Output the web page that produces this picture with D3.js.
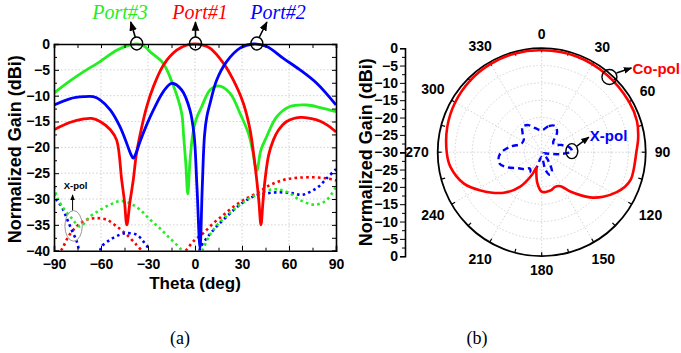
<!DOCTYPE html>
<html>
<head>
<meta charset="utf-8">
<script src="https://cdn.jsdelivr.net/npm/d3@7"></script>
<style>
  body { margin: 0; background: #fff; }
  svg { display: block; }
  .axis text { font-family: Arial, "Liberation Sans", sans-serif; font-weight: bold; fill: #000; }
  .axis path, .axis line { stroke: #000; }
</style>
</head>
<body>
<div id="chart"></div>
<script>
// ---- (a) cartesian pattern data: [theta deg, gain dBi] ----
const port1Co = [[-90,-16.6],[-80,-15.2],[-71,-14.5],[-66,-14.4],[-60.6,-15],[-54,-16.6],[-50,-18.6],[-46.8,-26.3],[-45,-30.5],[-43.5,-35],[-41.5,-30.5],[-39.4,-26.3],[-37.5,-21.5],[-35.1,-17.6],[-30.8,-12.1],[-26.6,-8.3],[-20.2,-4.1],[-11.7,-1.2],[-5,-0.2],[0,0],[5,-0.2],[9.6,-0.8],[18.1,-3.7],[24.5,-7],[30.9,-11.5],[35.1,-16.5],[37.5,-21.5],[39.4,-26.3],[40.8,-30.5],[42.1,-35],[43.4,-30.5],[44.7,-26.3],[47,-21.5],[50,-18.6],[53,-16.8],[58.5,-15],[67,-14.2],[77.7,-14.7],[84,-15.6],[90,-17]];
const port2Co = [[-90,-11.8],[-80,-10.6],[-71,-10.2],[-65,-10.2],[-60.6,-10.8],[-54,-12.8],[-47.9,-16],[-43.5,-19.3],[-41,-21.3],[-39.4,-22.1],[-37.5,-21],[-35,-18.8],[-30.8,-15.6],[-26.6,-12.8],[-20.2,-9.2],[-14.9,-7.6],[-8.5,-8.9],[-3.2,-12.8],[-0.6,-17.6],[1.3,-28],[3.2,-39.5],[4.6,-28],[6.1,-17.6],[7.6,-14],[9.6,-11.5],[13.8,-7],[20.2,-3.4],[28.7,-0.8],[37.2,0],[45.8,-0.5],[56.4,-2.8],[67,-5],[77.7,-7.6],[90,-11.8]];
const port3Co = [[-90,-9.5],[-80,-7.2],[-71.3,-5.4],[-60.6,-3.4],[-50,-1.2],[-43,-0.3],[-37.2,0],[-32,-0.5],[-28.7,-1.5],[-20.4,-3.7],[-14,-7.9],[-8.5,-13.4],[-7.3,-17.6],[-5.9,-23],[-4.6,-29],[-3.3,-23],[-1.5,-17.6],[0.7,-14.6],[4.3,-12.1],[9.6,-8.9],[14.9,-8.1],[22.3,-9.5],[28.7,-13.4],[34,-17.2],[36.7,-20.5],[39.4,-24.5],[42.1,-20.5],[45.8,-17.9],[52.1,-14.1],[60.6,-12.1],[71.3,-11.8],[80,-12.3],[90,-13.1]];

// cross-pol (dotted); null splits a segment that drops below -40
const port1X = [[-85.5,-40],[-84,-39.2],[-80.9,-37.3],[-75.5,-35.3],[-69.1,-34],[-62.7,-33.7],[-56.4,-34],[-50,-35.3],[-43.6,-36.9],[-37.2,-38.9],[-34,-40],null,[-6,-40],[-5.3,-39.8],[-1.1,-38.2],[5.3,-36.6],[11.7,-34.7],[18.1,-33.1],[24.5,-31.5],[30.9,-30.2],[39.4,-28.9],[47.9,-27.3],[56.4,-26.3],[65,-25.9],[75.5,-25.8],[84,-26],[90,-26.4]];
const port2X = [[-90,-28.9],[-88.3,-30.2],[-85.1,-31.5],[-81.9,-33.7],[-78.7,-36],[-75.5,-38.2],[-74,-40],null,[-60.5,-40],[-59.6,-39.2],[-54.3,-37.9],[-47.9,-36.9],[-43.6,-36.6],[-37.2,-36.9],[-33,-38.2],[-29.8,-39.5],[-29.3,-40],null,[3,-40],[3.2,-39.5],[7.4,-37.6],[13.8,-35.3],[20.2,-33.4],[28.7,-31.1],[37.2,-29.5],[45.8,-28.9],[54.3,-28.7],[62.8,-28.9],[68.3,-29.2],[73.6,-28.6],[78.9,-27.6],[84,-26],[90,-24.2]];
const port3X = [[-90,-27.6],[-88.3,-29.5],[-84,-31.8],[-78.7,-33.7],[-73.5,-35.3],[-67,-33.4],[-60.6,-32.1],[-54.3,-31.1],[-47.9,-30.4],[-41.5,-30.8],[-35,-32.1],[-28.7,-34],[-22.3,-35.7],[-16,-37.6],[-9.6,-39.5],[-8.5,-40],null,[4.5,-40],[4.9,-39.8],[9.6,-36.9],[16,-34.4],[22.3,-32.7],[28.7,-31.1],[35.1,-29.8],[41.5,-28.9],[47.9,-28.2],[54.3,-28.2],[60.6,-28.9],[67,-30.2],[76.6,-31.1],[84,-30.2],[90,-27.6]];

const thetaTicks = [-90,-60,-30,0,30,60,90];
const gainTicks = [-40,-35,-30,-25,-20,-15,-10,-5,0];
const portNames = ["Port#3","Port#1","Port#2"];
const portPeaks = [-37.2, 0.3, 39.5];   // theta of main beam, marked by circles

// ---- (b) polar pattern data: [angle deg, gain dBi] ----
const coPol = [[0,-0.6],[20,-0.6],[40,-0.8],[60,-0.9],[72,-1.1],[82,-1.9],[90,-2.7],[100,-3],[107,-3.1],[112.5,-4],[118,-5.5],[126,-8.1],[133,-10.9],[144,-16],[151,-18.8],[159,-19.3],[166,-18.7],[173,-18.5],[180,-18.6],[188,-21],[195,-24],[199,-25.3],[203,-23],[212,-18.3],[223,-14],[238,-9.2],[248,-5.8],[261,-3.3],[270,-2.6],[285,-1.8],[300,-1.2],[315,-0.8],[330,-0.6],[345,-0.5]];
const xPol = [[0,-23.7],[15,-22.2],[27,-21.5],[38,-22.8],[50,-25.7],[60,-25.7],[70,-23.9],[80,-21.9],[88,-21.3],[96,-24.8],[105,-28.6],[120,-29.4],[140,-27.4],[152,-23.7],[160,-23.1],[168,-24.8],[178,-28.6],[190,-28.3],[200,-24.5],[208,-23.4],[216,-24.2],[225,-23.1],[235,-21.9],[247,-19],[256,-17.3],[268,-18],[280,-20.8],[293,-23.7],[305,-23.7],[315,-22.2],[323,-20.8],[334,-21.3],[345,-22.8]];
const angleTicks = d3.range(0, 360, 30);
const radialTicks = [-30,-25,-20,-15,-10,-5,0];

const W = 681, H = 353;
const sans = 'Arial, "Liberation Sans", sans-serif';
const serif = '"Times New Roman", "Liberation Serif", serif';
const RED = "#ff0000", GREEN = "#22ee22", BLUE = "#0000ff";

const svg = d3.select("#chart").append("svg")
    .attr("width", W).attr("height", H);

svg.append("defs").append("marker")
    .attr("id", "arrow")
    .attr("viewBox", "0 0 10 10")
    .attr("refX", 9).attr("refY", 5)
    .attr("markerWidth", 6).attr("markerHeight", 6)
    .attr("orient", "auto")
  .append("path")
    .attr("d", "M0,1 L10,5 L0,9 z")
    .attr("fill", "#000");

// ================= (a) =================
const x = d3.scaleLinear().domain([-90, 90]).range([54, 336]);
const y = d3.scaleLinear().domain([-40, 0]).range([250.7, 44]);

svg.append("clipPath").attr("id", "clipA")
  .append("rect")
    .attr("x", x(-90)).attr("y", y(0) - 2)
    .attr("width", x(90) - x(-90)).attr("height", y(-40) - y(0) + 2);

const gA = svg.append("g");

// grid
gA.append("g").selectAll("line")
    .data(thetaTicks.slice(1, -1))
    .join("line")
    .attr("x1", d => x(d)).attr("x2", d => x(d))
    .attr("y1", y(0)).attr("y2", y(-40))
    .attr("stroke", "#c8c8c8").attr("stroke-width", 0.8)
    .attr("stroke-dasharray", "1.5 2");
gA.append("g").selectAll("line")
    .data(gainTicks.slice(1, -1))
    .join("line")
    .attr("x1", x(-90)).attr("x2", x(90))
    .attr("y1", d => y(d)).attr("y2", d => y(d))
    .attr("stroke", "#c8c8c8").attr("stroke-width", 0.8)
    .attr("stroke-dasharray", "1.5 2");

// curves
const lineA = d3.line()
    .defined(d => d !== null)
    .x(d => x(d[0])).y(d => y(d[1]))
    .curve(d3.curveCatmullRom.alpha(0.5));

const plotA = gA.append("g").attr("clip-path", "url(#clipA)");

const dotted = [[port1X, RED], [port2X, BLUE], [port3X, GREEN]];
plotA.selectAll(".xpol")
    .data(dotted)
    .join("path")
    .attr("class", "xpol")
    .attr("d", d => lineA(d[0]))
    .attr("fill", "none")
    .attr("stroke", d => d[1])
    .attr("stroke-width", 2.6)
    .attr("stroke-dasharray", "2.6 3.2");

const solid = [[port3Co, GREEN], [port1Co, RED], [port2Co, BLUE]];
plotA.selectAll(".copol")
    .data(solid)
    .join("path")
    .attr("class", "copol")
    .attr("d", d => lineA(d[0]))
    .attr("fill", "none")
    .attr("stroke", d => d[1])
    .attr("stroke-width", 2.8)
    .attr("stroke-linejoin", "round");

// axes
const fmt = d3.format("d");
const minorTheta = d3.range(-75, 90, 30);
const minorGain = d3.range(-37.5, 0, 5);

gA.append("g").attr("class", "axis")
    .attr("transform", `translate(0,${y(-40)})`)
    .call(d3.axisBottom(x).tickValues(thetaTicks).tickFormat(fmt).tickSize(-5).tickPadding(8))
    .call(g => g.selectAll("text").attr("font-size", 14).attr("font-family", sans))
    .call(g => g.select(".domain").attr("stroke-width", 1.6));
gA.append("g").attr("class", "axis")
    .attr("transform", `translate(0,${y(-40)})`)
    .call(d3.axisBottom(x).tickValues(minorTheta).tickFormat("").tickSize(-3))
    .call(g => g.select(".domain").remove());
gA.append("g").attr("class", "axis")
    .attr("transform", `translate(0,${y(0)})`)
    .call(d3.axisTop(x).tickValues(thetaTicks.concat(minorTheta)).tickFormat("").tickSize(-4))
    .call(g => g.select(".domain").attr("stroke-width", 1.6));

gA.append("g").attr("class", "axis")
    .attr("transform", `translate(${x(-90)},0)`)
    .call(d3.axisLeft(y).tickValues(gainTicks).tickFormat(fmt).tickSize(-5).tickPadding(4))
    .call(g => g.selectAll("text").attr("font-size", 14).attr("font-family", sans))
    .call(g => g.select(".domain").attr("stroke-width", 1.6));
gA.append("g").attr("class", "axis")
    .attr("transform", `translate(${x(-90)},0)`)
    .call(d3.axisLeft(y).tickValues(minorGain).tickFormat("").tickSize(-3))
    .call(g => g.select(".domain").remove());
gA.append("g").attr("class", "axis")
    .attr("transform", `translate(${x(90)},0)`)
    .call(d3.axisRight(y).tickValues(gainTicks.concat(minorGain)).tickFormat("").tickSize(-4))
    .call(g => g.select(".domain").attr("stroke-width", 1.6));

// axis titles
gA.append("text")
    .attr("x", (x(-90) + x(90)) / 2).attr("y", 289)
    .attr("text-anchor", "middle")
    .attr("font-family", sans).attr("font-weight", "bold").attr("font-size", 17)
    .text("Theta (deg)");
gA.append("text")
    .attr("transform", `translate(21,${(y(0) + y(-40)) / 2 + 2}) rotate(-90)`)
    .attr("text-anchor", "middle")
    .attr("font-family", sans).attr("font-weight", "bold").attr("font-size", 18)
    .text("Normalized Gain (dBi)");

// port labels with circled peaks and arrows
const portColors = [GREEN, RED, BLUE];
const labelX = [120, 200, 278];
const arrowTilt = [-6, 0, 10];
portPeaks.forEach((t, i) => {
    const px = x(t), py = y(0);
    gA.append("ellipse")
        .attr("cx", px).attr("cy", py - 0.5)
        .attr("rx", 6).attr("ry", 6.5)
        .attr("fill", "none").attr("stroke", "#000").attr("stroke-width", 1.4);
    gA.append("line")
        .attr("x1", px + arrowTilt[i] * 0.25).attr("y1", py - 7)
        .attr("x2", px + arrowTilt[i]).attr("y2", py - 22)
        .attr("stroke", "#000").attr("stroke-width", 1.6)
        .attr("marker-end", "url(#arrow)");
    gA.append("text")
        .attr("x", labelX[i]).attr("y", 19)
        .attr("text-anchor", "middle")
        .attr("font-family", serif).attr("font-style", "italic").attr("font-size", 20)
        .attr("fill", portColors[i])
        .text(portNames[i]);
});

// X-pol annotation
const xpx = x(-77.5), xpy = y(-35.2);
gA.append("ellipse")
    .attr("cx", xpx).attr("cy", xpy)
    .attr("rx", 8.7).attr("ry", 15.3)
    .attr("fill", "none").attr("stroke", "#999").attr("stroke-width", 1);
gA.append("line")
    .attr("x1", xpx - 1).attr("y1", xpy - 15.5)
    .attr("x2", xpx - 1).attr("y2", xpy - 31)
    .attr("stroke", "#000").attr("stroke-width", 1)
    .attr("marker-end", "url(#arrow)");
gA.append("text")
    .attr("x", xpx + 2).attr("y", xpy - 37)
    .attr("text-anchor", "middle")
    .attr("font-family", sans).attr("font-weight", "bold").attr("font-size", 9.5)
    .text("X-pol");

svg.append("text")
    .attr("x", 180).attr("y", 344)
    .attr("text-anchor", "middle")
    .attr("font-family", serif).attr("font-size", 18)
    .text("(a)");

// ================= (b) =================
const cx = 541.7, cy = 152.2, R = 104;
const r = d3.scaleLinear().domain([-30, 0]).range([0, R]);
const rad = a => a * Math.PI / 180;
const gB = svg.append("g").attr("transform", `translate(${cx},${cy})`);

// rings and spokes
gB.append("g").selectAll("circle")
    .data(radialTicks.slice(1, -1))
    .join("circle")
    .attr("r", d => r(d))
    .attr("fill", "none").attr("stroke", "#c8c8c8").attr("stroke-width", 0.8)
    .attr("stroke-dasharray", "1.5 2");
gB.append("g").selectAll("line")
    .data(angleTicks)
    .join("line")
    .attr("x2", d => R * Math.sin(rad(d)))
    .attr("y2", d => -R * Math.cos(rad(d)))
    .attr("stroke", "#c8c8c8").attr("stroke-width", 0.8)
    .attr("stroke-dasharray", "1.5 2");

// outer circle and ticks
gB.append("circle")
    .attr("r", R).attr("fill", "none").attr("stroke", "#000").attr("stroke-width", 1.8);
gB.append("g").selectAll("line")
    .data(d3.range(0, 360, 15))
    .join("line")
    .attr("x1", d => R * Math.sin(rad(d))).attr("y1", d => -R * Math.cos(rad(d)))
    .attr("x2", d => (R - 4) * Math.sin(rad(d))).attr("y2", d => -(R - 4) * Math.cos(rad(d)))
    .attr("stroke", "#000").attr("stroke-width", 1.2);

// angle labels
gB.append("g").selectAll("text")
    .data(angleTicks)
    .join("text")
    .each(function(d) {
        const s = Math.sin(rad(d)), c = Math.cos(rad(d));
        const tw = String(d).length * 7.8;
        const rl = R + 9 + (tw / 2) * Math.abs(s) + 5 * Math.abs(c);
        d3.select(this)
            .attr("x", rl * s).attr("y", -rl * c)
            .attr("dy", "0.36em");
    })
    .attr("text-anchor", "middle")
    .attr("font-family", sans).attr("font-weight", "bold").attr("font-size", 14)
    .text(d => d);

// patterns
const lineB = d3.lineRadial()
    .angle(d => rad(d[0]))
    .radius(d => r(d[1]))
    .curve(d3.curveCatmullRomClosed.alpha(0.5));

gB.append("path")
    .attr("d", lineB(xPol))
    .attr("fill", "none").attr("stroke", BLUE).attr("stroke-width", 2.4)
    .attr("stroke-dasharray", "6 4");
gB.append("path")
    .attr("d", lineB(coPol))
    .attr("fill", "none").attr("stroke", RED).attr("stroke-width", 2.6);

// annotations
const coA = 42, coP = [r(-0.8) * Math.sin(rad(coA)), -r(-0.8) * Math.cos(rad(coA))];
gB.append("circle").attr("cx", coP[0]).attr("cy", coP[1]).attr("r", 7.5)
    .attr("fill", "none").attr("stroke", "#000").attr("stroke-width", 1.4);
gB.append("line")
    .attr("x1", coP[0] + 7).attr("y1", coP[1] - 4)
    .attr("x2", coP[0] + 22).attr("y2", coP[1] - 9)
    .attr("stroke", "#000").attr("stroke-width", 1.4)
    .attr("marker-end", "url(#arrow)");
gB.append("text")
    .attr("x", coP[0] + 23).attr("y", coP[1] - 3)
    .attr("font-family", sans).attr("font-weight", "bold").attr("font-size", 15)
    .attr("fill", RED).text("Co-pol");

const xA = 88, xP = [r(-21.3) * Math.sin(rad(xA)), -r(-21.3) * Math.cos(rad(xA))];
gB.append("ellipse").attr("cx", xP[0]).attr("cy", xP[1]).attr("rx", 6).attr("ry", 7.5)
    .attr("fill", "none").attr("stroke", "#000").attr("stroke-width", 1.4);
gB.append("line")
    .attr("x1", xP[0] + 5).attr("y1", xP[1] - 5)
    .attr("x2", xP[0] + 17).attr("y2", xP[1] - 14)
    .attr("stroke", "#000").attr("stroke-width", 1.4)
    .attr("marker-end", "url(#arrow)");
gB.append("text")
    .attr("x", xP[0] + 18).attr("y", xP[1] - 10)
    .attr("font-family", sans).attr("font-weight", "bold").attr("font-size", 15)
    .attr("fill", BLUE).text("X-pol");

// radial axis on the left, mirrored about the centre
const axX = 405;
const yTop = d3.scaleLinear().domain([-30, 0]).range([cy, cy - R]);
const yBot = d3.scaleLinear().domain([-30, 0]).range([cy, cy + R]);
const minorR = d3.range(-27.5, 0, 5);
[yTop, yBot].forEach((sc, i) => {
    svg.append("g").attr("class", "axis")
        .attr("transform", `translate(${axX},0)`)
        .call(d3.axisLeft(sc).tickValues(i === 0 ? radialTicks : radialTicks.slice(1)).tickFormat(fmt).tickSize(5).tickPadding(2))
        .call(g => g.selectAll("text").attr("font-size", 14).attr("font-family", sans))
        .call(g => g.select(".domain").attr("stroke-width", 1.6));
    svg.append("g").attr("class", "axis")
        .attr("transform", `translate(${axX},0)`)
        .call(d3.axisLeft(sc).tickValues(minorR).tickFormat("").tickSize(3))
        .call(g => g.select(".domain").remove());
});
svg.append("text")
    .attr("transform", `translate(372,${cy}) rotate(-90)`)
    .attr("text-anchor", "middle")
    .attr("font-family", sans).attr("font-weight", "bold").attr("font-size", 18)
    .text("Normalized Gain (dBi)");

svg.append("text")
    .attr("x", 477).attr("y", 344)
    .attr("text-anchor", "middle")
    .attr("font-family", serif).attr("font-size", 18)
    .text("(b)");
</script>
</body>
</html>
